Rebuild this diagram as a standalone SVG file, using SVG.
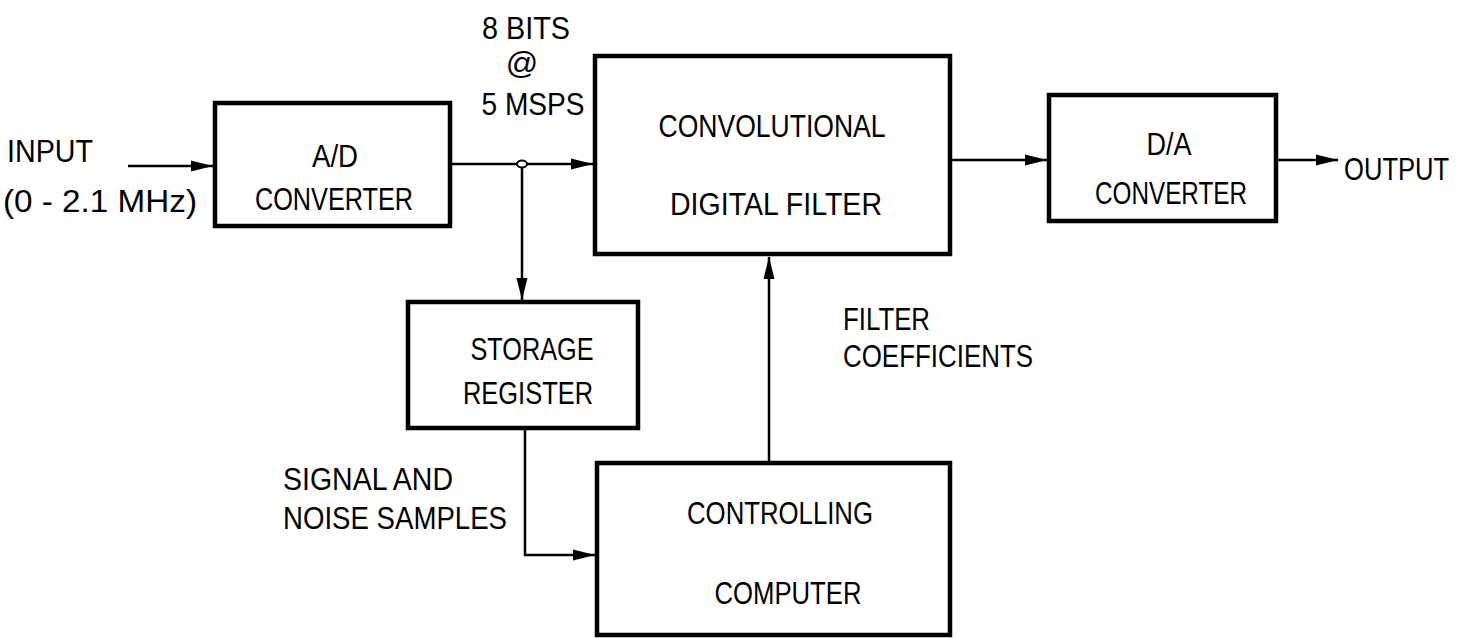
<svg xmlns="http://www.w3.org/2000/svg" width="1459" height="638" viewBox="0 0 1459 638">
<style>
.box{fill:#fff;stroke:#000;stroke-width:4.5}
.ln{fill:none;stroke:#000;stroke-width:2.5}
text{font-family:"Liberation Sans",Arial,sans-serif;font-size:32px;fill:#000;text-anchor:middle}
.l{text-anchor:start}
</style>
<defs>
<marker id="ah" markerUnits="userSpaceOnUse" markerWidth="24" markerHeight="14" refX="22" refY="7" orient="auto">
<path d="M0,1.5 L22,7 L0,12.5 Z" fill="#000"/>
</marker>
</defs>
<rect width="1459" height="638" fill="#fff"/>
<g id="connectors">
<line class="ln" x1="128" y1="166" x2="213" y2="166" marker-end="url(#ah)"/>
<line class="ln" x1="450" y1="164" x2="593" y2="164" marker-end="url(#ah)"/>
<ellipse cx="522" cy="164" rx="5" ry="3.5" fill="#fff" stroke="#000" stroke-width="2"/>
<line class="ln" x1="522" y1="168" x2="522" y2="300" marker-end="url(#ah)"/>
<polyline class="ln" points="525,428 525,555 595,555" marker-end="url(#ah)"/>
<line class="ln" x1="769" y1="463" x2="769" y2="257" marker-end="url(#ah)"/>
<line class="ln" x1="950" y1="160" x2="1047" y2="160" marker-end="url(#ah)"/>
<line class="ln" x1="1277" y1="160" x2="1338" y2="160" marker-end="url(#ah)"/>
</g>
<g id="input-label">
<text x="50" y="162" textLength="86" lengthAdjust="spacingAndGlyphs">INPUT</text>
<text x="100" y="212" textLength="194" lengthAdjust="spacingAndGlyphs">(0 - 2.1 MHz)</text>
</g>
<g id="ad">
<rect class="box" x="215" y="103" width="235" height="123"/>
<text x="335" y="167" textLength="46" lengthAdjust="spacingAndGlyphs">A/D</text>
<text x="334" y="210" textLength="158" lengthAdjust="spacingAndGlyphs">CONVERTER</text>
</g>
<g id="rate-label">
<text x="526" y="39" textLength="88" lengthAdjust="spacingAndGlyphs">8 BITS</text>
<text x="522" y="74" font-size="30">@</text>
<text x="533" y="115" textLength="103" lengthAdjust="spacingAndGlyphs">5 MSPS</text>
</g>
<g id="conv">
<rect class="box" x="595" y="56" width="355" height="198"/>
<text x="772" y="137" textLength="227" lengthAdjust="spacingAndGlyphs">CONVOLUTIONAL</text>
<text x="776" y="215" textLength="212" lengthAdjust="spacingAndGlyphs">DIGITAL FILTER</text>
</g>
<g id="da">
<rect class="box" x="1049" y="95" width="227" height="126"/>
<text x="1169" y="155" textLength="45" lengthAdjust="spacingAndGlyphs">D/A</text>
<text x="1171" y="204" textLength="152" lengthAdjust="spacingAndGlyphs">CONVERTER</text>
</g>
<g id="output-label">
<text class="l" transform="translate(1344,180) scale(0.8,1)" x="0" y="0">OUTPUT</text>
</g>
<g id="storage">
<rect class="box" x="408" y="302" width="230" height="126"/>
<text x="532" y="360" textLength="123" lengthAdjust="spacingAndGlyphs">STORAGE</text>
<text x="528" y="404" textLength="130" lengthAdjust="spacingAndGlyphs">REGISTER</text>
</g>
<g id="signal-label">
<text class="l" x="283" y="490" textLength="170" lengthAdjust="spacingAndGlyphs">SIGNAL AND</text>
<text class="l" x="283" y="529" textLength="224" lengthAdjust="spacingAndGlyphs">NOISE SAMPLES</text>
</g>
<g id="coef-label">
<text class="l" x="843" y="330" textLength="87" lengthAdjust="spacingAndGlyphs">FILTER</text>
<text class="l" x="843" y="367" textLength="190" lengthAdjust="spacingAndGlyphs">COEFFICIENTS</text>
</g>
<g id="computer">
<rect class="box" x="597" y="463" width="353" height="172"/>
<text x="780" y="524" textLength="186" lengthAdjust="spacingAndGlyphs">CONTROLLING</text>
<text x="788" y="604" textLength="147" lengthAdjust="spacingAndGlyphs">COMPUTER</text>
</g>
</svg>
